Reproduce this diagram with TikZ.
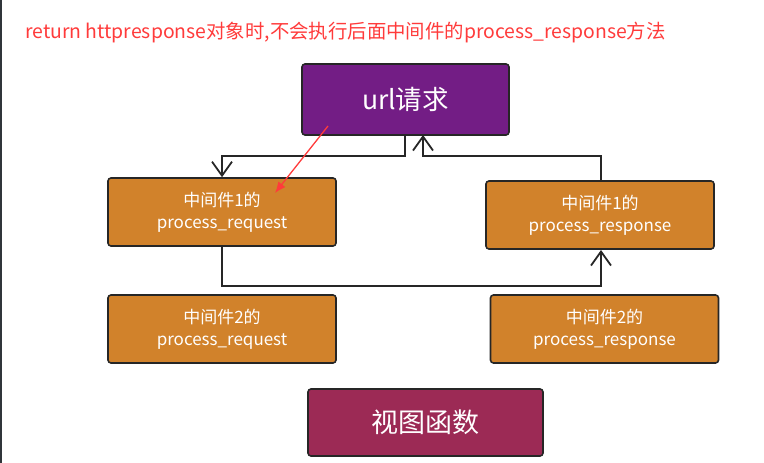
\documentclass[tikz,border=0pt]{standalone}
\usepackage{fontspec}
\setmainfont{Noto Sans CJK SC}
\usetikzlibrary{arrows.meta}
\definecolor{urlpurple}{HTML}{731D85}
\definecolor{mworange}{HTML}{D1822B}
\definecolor{viewred}{HTML}{9C2A55}
\definecolor{notered}{HTML}{FF3B3B}
\definecolor{edgegray}{HTML}{30353A}
\tikzset{
  box/.style={draw=black!85,line width=1.6pt,rounded corners=3pt,text=white,align=center,inner sep=0pt},
  mwbox/.style={box,fill=mworange,minimum width=228pt,minimum height=68pt,font=\fontsize{17}{22}\selectfont},
  flow/.style={draw=black!85,line width=1.8pt,-{Straight Barb[length=14pt,width=20pt,line width=1.8pt]}},
}

\begin{document}
\begin{tikzpicture}[x=1pt,y=-1pt]
\useasboundingbox (0,0) rectangle (764,463);
\fill[edgegray] (0,0) rectangle (2,463);
\node[text=notered,anchor=west,font=\fontsize{19.4}{22}\selectfont,inner sep=0pt] (title) at (25,33)
{return httpresponse对象时,不会执行后面中间件的process\_response方法};
\node[box,fill=urlpurple,minimum width=207pt,minimum height=71pt,font=\fontsize{26.5}{30}\selectfont] (url) at (405.5,99.5) {url请求};
\node[mwbox] (req1) at (222,212) {中间件1的\\process\_request};
\node[mwbox] (resp1) at (600,215) {中间件1的\\process\_response};
\node[mwbox] (req2) at (222,329) {中间件2的\\process\_request};
\node[mwbox] (resp2) at (604.5,329) {中间件2的\\process\_response};
\node[box,fill=viewred,minimum width=235pt,minimum height=67pt,font=\fontsize{27}{30}\selectfont] (view) at (425.5,422.5) {视图函数};
\coordinate (urlout) at (405,135);
\coordinate (urlin) at (423,135);
\draw[flow] (urlout) |- (222,156) -- (req1.north);
\draw[flow] (601,181) |- (423,156) -- (urlin);
\draw[flow] (req1.south) |- (601,286) -- (601,250);
\draw[draw=notered,line width=1.3pt,-{Latex[length=11pt,width=9pt]}] (328,126) -- (275,193);
\end{tikzpicture}
\end{document}
